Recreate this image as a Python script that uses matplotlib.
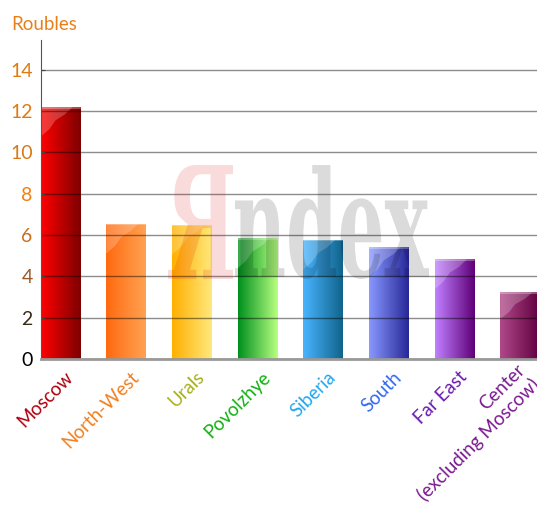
import numpy as np
import matplotlib.pyplot as plt
from matplotlib.colors import LinearSegmentedColormap
from matplotlib.textpath import TextPath
from matplotlib.patches import PathPatch, Polygon
from matplotlib.font_manager import FontProperties
from matplotlib.transforms import Affine2D, ScaledTranslation

regions = ["Moscow", "North-West", "Urals", "Povolzhye", "Siberia", "South",
           "Far East", "Center\n(excluding Moscow)"]
values = [12.2, 6.55, 6.5, 5.85, 5.78, 5.43, 4.82, 3.23]
grad_left = ["#ff0000", "#ff6a10", "#ffb000", "#00901e", "#48b4ff", "#8898ff", "#c080ff", "#b04888"]
grad_right = ["#7e0000", "#ffa252", "#ffe87c", "#b8ff80", "#10648c", "#282898", "#600078", "#600040"]
label_colors = ["#b00010", "#f08020", "#a8b018", "#10b010", "#20a8f0", "#3068f0", "#6a1ab0", "#7a1a90"]
yticks = [0, 2, 4, 6, 8, 10, 12, 14]
ytick_colors = ["#000000", "#3a2a18", "#9a5a28", "#c86e1e", "#f08010", "#d87a18", "#e07b10", "#e07b10"]

W, H = 537, 511
plt.rcParams['font.family'] = ['Lato', 'DejaVu Sans']
fig = plt.figure(figsize=(W / 100, H / 100), dpi=100)
ax = fig.add_axes([41 / W, (H - 359) / H, 1 - 41 / W, 319 / H])

x = np.arange(len(values))
bw = 0.6
bars = ax.bar(x, values, width=bw, color=grad_right, zorder=1)

grad = np.linspace(0, 1, 64).reshape(1, -1)
for b, c0, c1 in zip(bars, grad_left, grad_right):
  x0, w, h = b.get_x(), b.get_width(), b.get_height()
  cm = LinearSegmentedColormap.from_list("g", [c0, c1])
  im = ax.imshow(grad, extent=[x0, x0 + w, 0, h], aspect='auto', cmap=cm, zorder=1.5)
  im.set_clip_path(b)
  # glossy highlight top-left
  g = min(1.45, h * 0.4)
  pts = [(x0, h), (x0 + 0.82 * w, h), (x0 + 0.62 * w, h - 0.25 * g),
         (x0 + 0.38 * w, h - 0.45 * g), (x0 + 0.22 * w, h - 0.75 * g), (x0, h - g)]
  ax.add_patch(Polygon(pts, closed=True, facecolor="white", alpha=0.22, edgecolor="none", zorder=1.7))
  ax.plot([x0, x0 + w], [h - 0.04, h - 0.04], color="white", alpha=0.35, lw=1.2, zorder=1.8)

# watermark
def place_text(s, box, color, alpha):
  tp = TextPath((0, 0), s, size=1, prop=FontProperties(family="DejaVu Serif", weight="bold"))
  ext = tp.get_extents()
  bx0, by0, bx1, by1 = box
  sx = (bx1 - bx0) / ext.width
  sy = (by1 - by0) / ext.height
  tr = (Affine2D().translate(-ext.x0, -ext.y0).scale(sx, sy)
        .translate(bx0, H - by1).scale(1 / W, 1 / H) + fig.transFigure)
  fig.patches.append(PathPatch(tp, transform=tr, facecolor=color, alpha=alpha,
                               edgecolor="none", zorder=2))

place_text("Я", (168, 165, 233, 279), "#e00000", 0.14)
place_text("ndex", (235, 165, 429, 279), "#000000", 0.14)

ax.set_xlim(-0.2935, 7.26)
ax.set_ylim(0, 15.43)
ax.set_yticks(yticks)
ax.set_yticklabels([str(v) for v in yticks], fontsize=14)
for t, c in zip(ax.get_yticklabels(), ytick_colors):
  t.set_color(c)
ax.tick_params(axis='y', length=3, direction='in', pad=6, color="#444444")
ax.tick_params(axis='x', length=0, pad=11)
ax.grid(axis='y', color="black", alpha=0.45, lw=1)
ax.set_axisbelow(False)
for gl in ax.get_ygridlines():
  gl.set_zorder(3)

ax.set_xticks(x)
ax.set_xticklabels(regions, fontsize=13.5, rotation=45, ha='right', va='center',
                   rotation_mode='anchor', multialignment='right')
off = ScaledTranslation(10 / 100, 0, fig.dpi_scale_trans)
for t, c in zip(ax.get_xticklabels(), label_colors):
  t.set_color(c)
  t.set_transform(t.get_transform() + off)

for s in ["top", "right"]:
  ax.spines[s].set_visible(False)
ax.spines["left"].set_color("#555555")
ax.spines["left"].set_zorder(4)
ax.spines["bottom"].set_color("#999999")
ax.spines["bottom"].set_linewidth(2)
ax.spines["bottom"].set_zorder(4)

fig.text(11 / W, 1 - 30 / H, "Roubles", color="#e8801a", fontsize=13.5)

fig.savefig("out.png", dpi=100)
